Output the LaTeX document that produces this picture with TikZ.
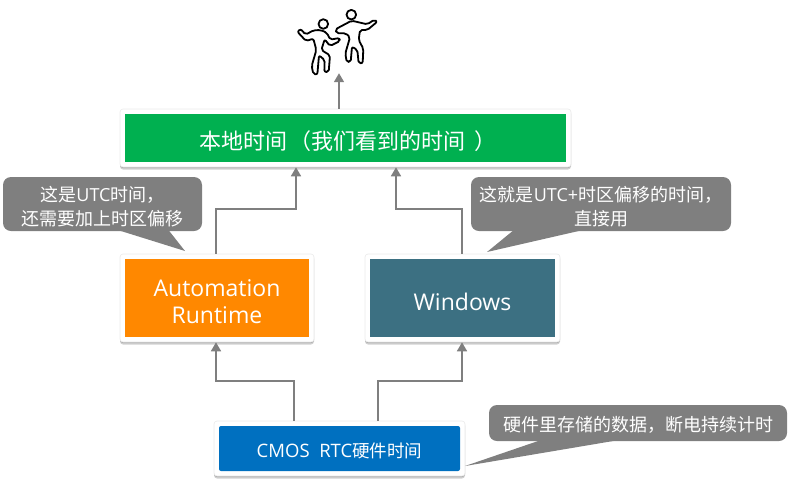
\documentclass[tikz,border=0pt]{standalone}
\usepackage{fontspec}
\setmainfont{Open Sans}
\newfontfamily\cjk[Kerning=Off,RawFeature={-chws;-palt;-halt}]{Noto Sans CJK SC}
\usetikzlibrary{arrows.meta,shadows,calc}
\definecolor{greybox}{HTML}{7F7F7F}
\definecolor{arrowgrey}{HTML}{7F7F7F}
\definecolor{greenbox}{HTML}{00B050}
\definecolor{orangebox}{HTML}{FF8800}
\definecolor{tealbox}{HTML}{3C7082}
\definecolor{bluebox}{HTML}{0070C0}
\newcommand{\dn}[1]{\rule{0pt}{#1}}
\tikzset{
  x=1pt,y=1pt,
  framebox/.style={fill=white,draw=black!8,line width=.6pt,rounded corners=3pt,inner sep=0pt,
    drop shadow={shadow xshift=0pt,shadow yshift=-1pt,opacity=.22,fill=black},
    drop shadow={shadow xshift=0pt,shadow yshift=-2.5pt,opacity=.18,fill=black}},
  inbox/.style={inner sep=0pt,text=white,align=center},
  flow/.style={draw=arrowgrey,line width=1.7pt,-{Triangle[length=9pt,width=10pt]}},
  bubble/.style={fill=greybox,rounded corners=8pt,inner sep=0pt,text=white,align=center,font=\fontsize{18}{24}\selectfont},
  tail/.style={fill=greybox},
  figure/.style={draw=black,line width=1.8pt,line join=round,fill=none}
}
\begin{document}
\begin{tikzpicture}
\useasboundingbox (0,0) rectangle (791,-483);
% frames
\node[framebox,minimum width=451pt,minimum height=58pt] (local) at (345.5,-138) {};
\node[framebox,minimum width=194pt,minimum height=88pt] (ar) at (217,-298) {};
\node[framebox,minimum width=195pt,minimum height=88pt] (win) at (462.5,-298) {};
\node[framebox,minimum width=251pt,minimum height=55pt] (cmos) at (339.5,-448.5) {};
% coloured faces
\node[inbox,fill=greenbox,minimum width=441pt,minimum height=48pt,font=\fontsize{22}{26}\selectfont] (localin) at (local.center) {\dn{25pt}\hspace{4pt}{\cjk 本地时间\hspace{3pt}（我们看到的时间\hspace{8pt}）}};
\node[inbox,fill=orangebox,minimum width=184pt,minimum height=78pt,font=\fontsize{23}{26.5}\selectfont] (arin) at (ar.center) {\dn{24pt}Automation\\Runtime};
\node[inbox,fill=tealbox,minimum width=185pt,minimum height=78pt,font=\fontsize{23}{27}\selectfont] (winin) at (win.center) {\dn{25pt}Windows};
\node[inbox,fill=bluebox,rounded corners=2pt,minimum width=241pt,minimum height=45pt,font=\fontsize{18.5}{21}\selectfont] (cmosin) at (cmos.center) {\dn{19pt}CMOS\ \ RTC{\cjk\fontsize{17.5}{21}\selectfont 硬件时间}};
% dancers anchor
\node[minimum width=84pt,minimum height=70pt,inner sep=0pt] (dancers) at (339,-38) {};
% connectors
\draw[flow] ([xshift=-45.5pt]cmos.north) -- ++(0,40) -| ([xshift=-1pt]ar.south);
\draw[flow] ([xshift=38.5pt]cmos.north) -- ++(0,40) -| ([xshift=-0.5pt]win.south);
\draw[flow] ([xshift=-1pt]ar.north) -- ++(0,45) -| ([xshift=-49.5pt]local.south);
\draw[flow] ([xshift=-0.5pt]win.north) -- ++(0,45) -| ([xshift=50.5pt]local.south);
\draw[flow] ([xshift=-6.5pt]local.north) -- (dancers.south);
% callouts
\node[bubble,minimum width=199pt,minimum height=54pt] (noteA) at (102.5,-204) {\dn{20pt}{\cjk 这是}UTC{\cjk 时间，}\\{\cjk 还需要加上时区偏移}};
\node[bubble,minimum width=260pt,minimum height=54pt] (noteB) at (601,-204) {\dn{20pt}{\cjk 这就是}UTC+{\cjk 时区偏移的时间，}\\{\cjk 直接用}};
\node[bubble,minimum width=298pt,minimum height=36pt] (noteC) at (638,-423) {\dn{19pt}{\cjk 硬件里存储的数据，断电持续计时}};
\coordinate (tipA) at (185,-251);
\coordinate (tipB) at (487,-252);
\coordinate (tipC) at (465,-466);
\fill[tail] ([xshift=17.5pt,yshift=.5pt]noteA.south) -- (tipA) -- ([xshift=66.5pt,yshift=.5pt]noteA.south) -- cycle;
\fill[tail] ([xshift=-88pt,yshift=.5pt]noteB.south) -- (tipB) -- ([xshift=-21pt,yshift=.5pt]noteB.south) -- cycle;
\fill[tail] ([xshift=-99pt,yshift=.5pt]noteC.south) -- (tipC) -- ([xshift=-23pt,yshift=.5pt]noteC.south) -- cycle;
% dancing figures
\begin{scope}[shift={(280,0)},x=0.3333pt,y=-0.3333pt]
\draw[figure] (130,72) circle (4.8pt);
\draw[figure] (214,44) circle (4.8pt);
\draw[figure,rounded corners=2pt] (52,95) -- (62,87) -- (77,104) -- (100,91) -- (122,90) -- (140,98) -- (151,119) -- (178,114) -- (180,123) -- (150,138) -- (134,118) -- (124,150) -- (150,166) -- (146,216) -- (133,216) -- (134,180) -- (117,166) -- (112,224) -- (100,222) -- (95,198) -- (109,150) -- (100,116) -- (78,123) -- cycle;
\draw[figure,rounded corners=2pt] (292,65) -- (283,59) -- (262,73) -- (215,62) -- (166,88) -- (170,100) -- (198,100) -- (210,112) -- (196,160) -- (200,186) -- (212,186) -- (216,140) -- (232,150) -- (236,190) -- (248,190) -- (250,146) -- (236,120) -- (240,90) -- (262,90) -- cycle;
\end{scope}
\end{tikzpicture}
\end{document}
